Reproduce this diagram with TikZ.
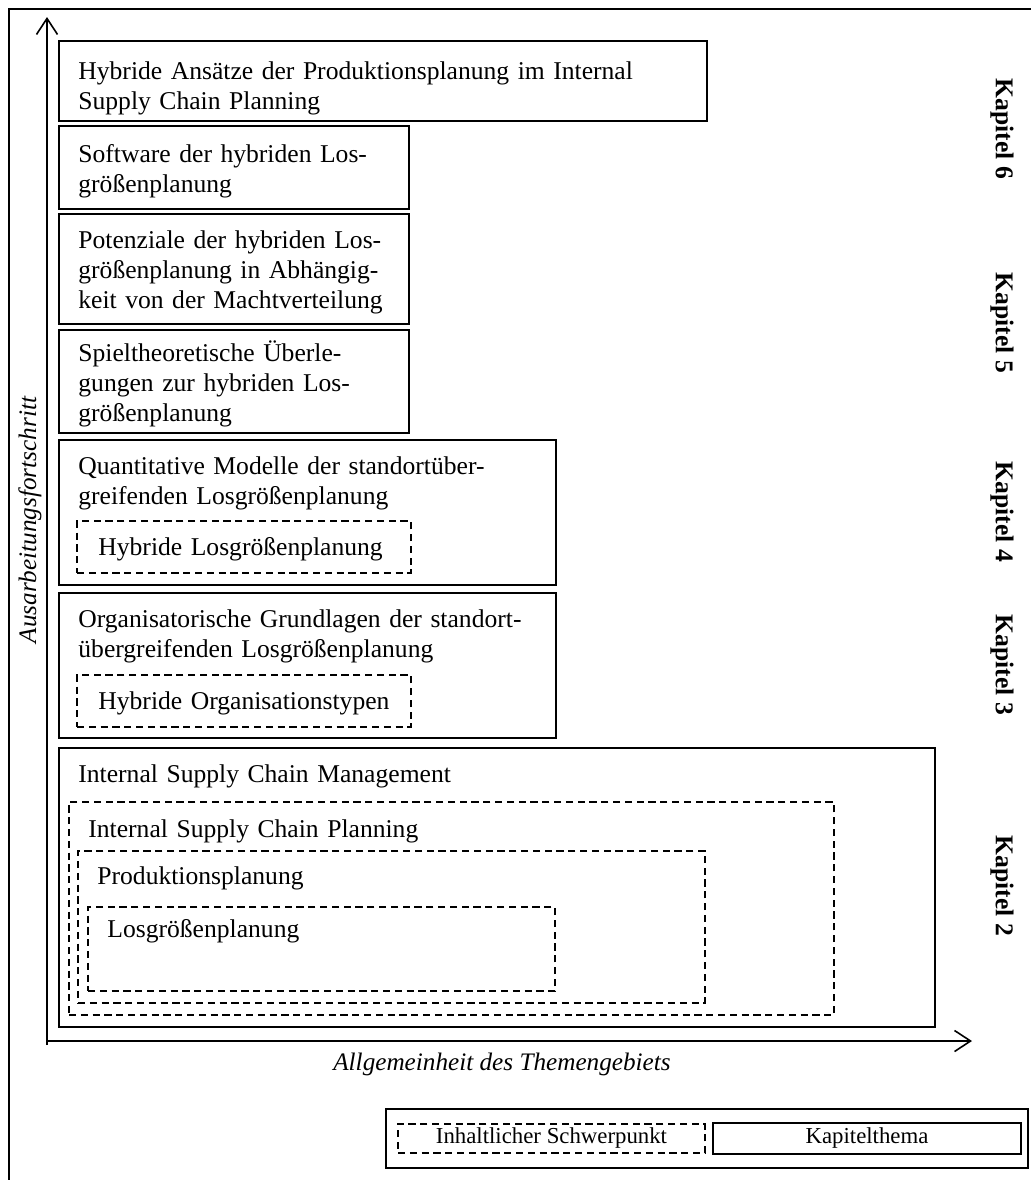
\documentclass[tikz,border=0pt]{standalone}
\usepackage{fontspec}
\setmainfont{Liberation Serif}
\usetikzlibrary{arrows.meta,fit}
\begin{document}
\begin{tikzpicture}[x=0.5pt,y=-0.5pt,
  box/.style={draw,line width=0.85pt,inner sep=0pt},
  dbox/.style={draw,line width=0.75pt,dash pattern=on 3.6pt off 2.3pt,inner sep=0pt},
  txt/.style={anchor=base west,inner sep=0pt,text width=330pt,align=left,
    font=\fontsize{12.8}{15}\selectfont},
  kap/.style={rotate=-90,inner sep=0pt,font=\fontsize{12.8}{15}\selectfont\bfseries},
  axislabel/.style={inner sep=0pt,font=\fontsize{12.6}{15}\selectfont\itshape},
  legtxt/.style={inner sep=0pt,font=\fontsize{11.4}{13}\selectfont},
  axis/.style={line width=0.8pt,-{Straight Barb[length=8pt,width=10.5pt,line width=0.8pt]}}]
\useasboundingbox (0,0) rectangle (1030,1180);
% outer frame (right and bottom sides fall outside the picture)
\draw[line width=1pt] (1040,9) -- (8.5,9) -- (8.5,1190);

% axes
\coordinate (origin) at (47,1041);
\coordinate (ybase) at (47,1045);
\coordinate (ytip) at (47,17);
\coordinate (xtip) at (972,1041);
\draw[axis] (ybase) -- (ytip);
\draw[axis] (origin) -- (xtip);
\node[axislabel] (xlab) at (502,1064) {Allgemeinheit des Themengebiets};
\node[axislabel,rotate=90] (ylab) at (30,520) {Ausarbeitungsfortschritt};

% box 1
\coordinate (b1a) at (59,41); \coordinate (b1b) at (707,121);
\node[box,fit=(b1a)(b1b)] (b1) {};
\node[txt] (t1) at (78,79) {Hybride Ansätze der Produktionsplanung im Internal\\Supply Chain Planning};
% box 2
\coordinate (b2a) at (59,126); \coordinate (b2b) at (409,209);
\node[box,fit=(b2a)(b2b)] (b2) {};
\node[txt] (t2) at (78,162) {Software der hybriden Los-\\größenplanung};
% box 3
\coordinate (b3a) at (59,214); \coordinate (b3b) at (409,324);
\node[box,fit=(b3a)(b3b)] (b3) {};
\node[txt] (t3) at (78,248) {Potenziale der hybriden Los-\\größenplanung in Abhängig-\\keit von der Machtverteilung};
% box 4
\coordinate (b4a) at (59,330); \coordinate (b4b) at (409,433);
\node[box,fit=(b4a)(b4b)] (b4) {};
\node[txt] (t4) at (78,361) {Spieltheoretische Überle-\\gungen zur hybriden Los-\\größenplanung};
% box 5
\coordinate (b5a) at (59,440); \coordinate (b5b) at (556,585);
\node[box,fit=(b5a)(b5b)] (b5) {};
\node[txt] (t5) at (78,474) {Quantitative Modelle der standortüber-\\greifenden Losgrößenplanung};
\coordinate (d5a) at (77,521); \coordinate (d5b) at (411,573);
\node[dbox,fit=(d5a)(d5b)] (d5) {};
\node[txt] (s5) at (98,555) {Hybride Losgrößenplanung};
% box 6
\coordinate (b6a) at (59,593); \coordinate (b6b) at (556,738);
\node[box,fit=(b6a)(b6b)] (b6) {};
\node[txt] (t6) at (78,627) {Organisatorische Grundlagen der standort-\\übergreifenden Losgrößenplanung};
\coordinate (d6a) at (77,675); \coordinate (d6b) at (411,727);
\node[dbox,fit=(d6a)(d6b)] (d6) {};
\node[txt] (s6) at (98,709) {Hybride Organisationstypen};
% box 7
\coordinate (b7a) at (59,748); \coordinate (b7b) at (935,1027);
\node[box,fit=(b7a)(b7b)] (b7) {};
\node[txt] (t7) at (78,782) {Internal Supply Chain Management};
\coordinate (d7a) at (69,802); \coordinate (d7b) at (834,1015);
\node[dbox,fit=(d7a)(d7b)] (d7) {};
\node[txt] (s7) at (88,837) {Internal Supply Chain Planning};
\coordinate (d8a) at (78,851); \coordinate (d8b) at (705,1003);
\node[dbox,fit=(d8a)(d8b)] (d8) {};
\node[txt] (s8) at (97,884) {Produktionsplanung};
\coordinate (d9a) at (88,907); \coordinate (d9b) at (555,991);
\node[dbox,fit=(d9a)(d9b)] (d9) {};
\node[txt] (s9) at (107,937) {Losgrößenplanung};

% chapter labels
\node[kap] (k6) at (1002,129) {Kapitel 6};
\node[kap] (k5) at (1002,323) {Kapitel 5};
\node[kap] (k4) at (1002,512) {Kapitel 4};
\node[kap] (k3) at (1002,665) {Kapitel 3};
\node[kap] (k2) at (1002,886) {Kapitel 2};

% legend
\coordinate (la) at (386,1109); \coordinate (lb) at (1028,1168);
\node[box,line width=0.75pt,fit=(la)(lb)] (leg) {};
\coordinate (lda) at (398,1124); \coordinate (ldb) at (705,1153);
\node[dbox,fit=(lda)(ldb)] (legd) {};
\node[legtxt] (legdt) at (legd.center) {Inhaltlicher Schwerpunkt};
\coordinate (lsa) at (713,1123); \coordinate (lsb) at (1021,1154);
\node[box,fit=(lsa)(lsb)] (legs) {};
\node[legtxt] (legst) at (legs.center) {Kapitelthema};
\end{tikzpicture}
\end{document}
